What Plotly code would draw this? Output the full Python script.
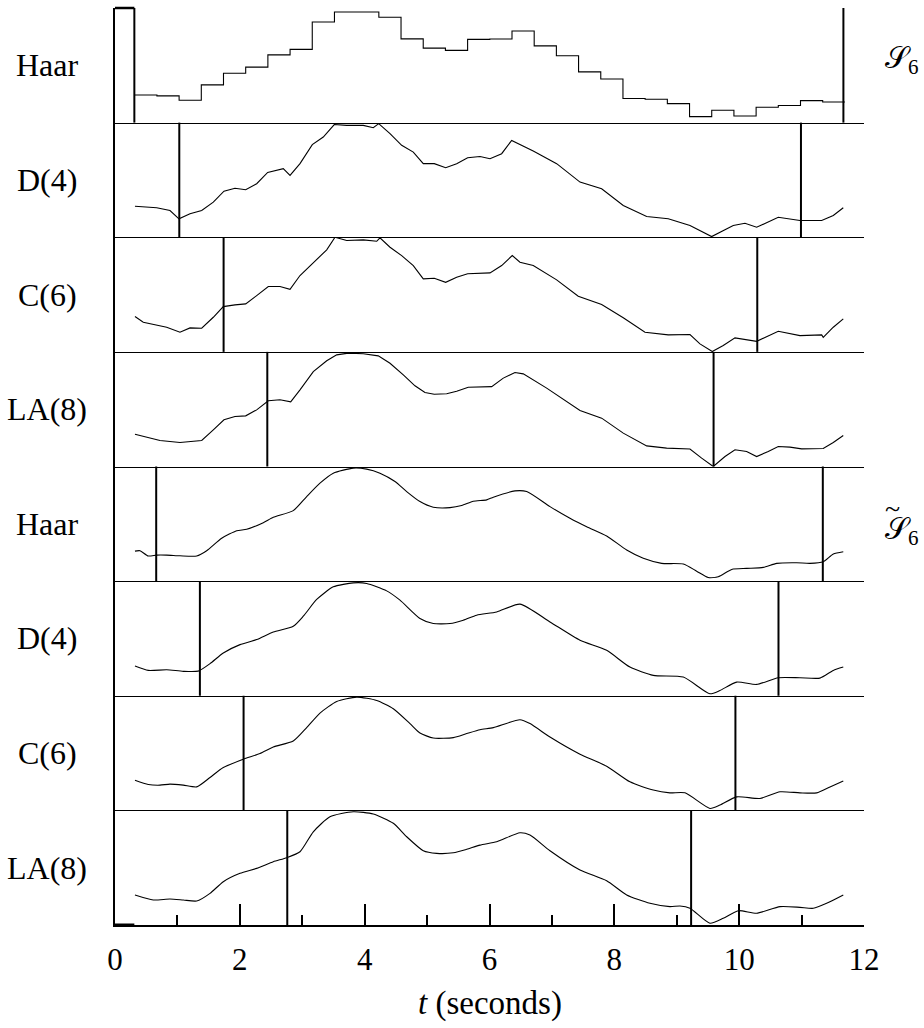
import plotly.graph_objects as go
from plotly.subplots import make_subplots

# ---------------------------------------------------------------------------
# Level-6 wavelet smooths of an ECG record (180 Hz), DWT (S6) and MODWT (S~6)
# ---------------------------------------------------------------------------
FS = 180.0        # sampling rate, Hz
T_START = 0.316   # time of the first sample, s
BLOCK = 64        # samples per level-6 Haar block

# DWT Haar smooth: one level per 64-sample block
haar_s6 = [0.241, 0.233, 0.195, 0.329, 0.431, 0.484, 0.591, 0.639, 0.878, 0.965,
           0.965, 0.919, 0.731, 0.650, 0.630, 0.726, 0.729, 0.799, 0.670, 0.583,
           0.443, 0.381, 0.210, 0.204, 0.166, 0.052, 0.108, 0.058, 0.134, 0.149,
           0.192, 0.180]

# DWT D(4) smooth
d4_s6_t = [0.320, 0.668, 0.881, 1.025, 1.202, 1.389, 1.575, 1.746, 1.922, 2.094,
           2.270, 2.446, 2.696, 2.804, 2.964, 3.161, 3.337, 3.513, 3.712, 3.978,
           4.138, 4.225, 4.406, 4.593, 4.779, 4.939, 5.115, 5.298, 5.474, 5.650,
           5.848, 6.008, 6.195, 6.355, 6.701, 7.076, 7.450, 7.797, 8.143, 8.518,
           8.864, 9.212, 9.559, 9.905, 10.093, 10.280, 10.626, 10.974, 11.322, 11.508,
           11.668]
d4_s6 = [0.271, 0.257, 0.233, 0.161, 0.205, 0.233, 0.306, 0.402, 0.428, 0.414,
         0.467, 0.566, 0.598, 0.539, 0.642, 0.808, 0.874, 0.983, 0.976, 0.976,
         0.956, 0.991, 0.904, 0.802, 0.743, 0.642, 0.642, 0.607, 0.642, 0.694,
         0.705, 0.685, 0.729, 0.845, 0.752, 0.642, 0.481, 0.423, 0.277, 0.181,
         0.161, 0.102, 0.006, 0.102, 0.122, 0.087, 0.175, 0.146, 0.146, 0.190,
         0.257]

# DWT C(6) smooth
c6_s6_t = [0.320, 0.453, 0.828, 1.041, 1.202, 1.389, 1.575, 1.735, 1.922, 2.094,
           2.270, 2.456, 2.643, 2.804, 2.964, 3.177, 3.392, 3.525, 3.712, 3.978,
           4.193, 4.245, 4.406, 4.593, 4.779, 4.939, 5.115, 5.298, 5.474, 5.650,
           5.848, 6.008, 6.195, 6.365, 6.488, 6.701, 7.076, 7.422, 7.797, 8.143,
           8.491, 8.864, 9.212, 9.372, 9.569, 9.745, 9.933, 10.280, 10.626, 10.974,
           11.322, 11.347, 11.508, 11.668]
c6_s6 = [0.308, 0.258, 0.215, 0.171, 0.209, 0.206, 0.302, 0.395, 0.410, 0.419,
         0.491, 0.570, 0.570, 0.546, 0.666, 0.782, 0.890, 1.000, 0.971, 0.977,
         0.965, 0.995, 0.913, 0.840, 0.753, 0.637, 0.642, 0.607, 0.651, 0.681,
         0.686, 0.689, 0.753, 0.840, 0.782, 0.753, 0.628, 0.485, 0.413, 0.297,
         0.171, 0.148, 0.151, 0.070, 0.003, 0.055, 0.122, 0.092, 0.180, 0.142,
         0.148, 0.127, 0.215, 0.288]

# DWT LA(8) smooth
la8_s6_t = [0.320, 0.508, 0.721, 1.041, 1.389, 1.575, 1.746, 1.922, 2.094, 2.270,
            2.456, 2.643, 2.815, 2.964, 3.177, 3.392, 3.552, 3.738, 3.978, 4.218,
            4.406, 4.619, 4.806, 4.966, 5.115, 5.314, 5.474, 5.660, 5.848, 6.035,
            6.221, 6.408, 6.541, 6.916, 7.450, 7.797, 8.143, 8.518, 8.838, 9.212,
            9.399, 9.585, 9.773, 9.933, 10.120, 10.280, 10.466, 10.626, 10.814, 11.001,
            11.347, 11.508, 11.668]
la8_s6 = [0.282, 0.256, 0.227, 0.209, 0.227, 0.320, 0.407, 0.436, 0.442, 0.494,
          0.573, 0.582, 0.564, 0.669, 0.828, 0.922, 0.974, 0.989, 0.983, 0.965,
          0.901, 0.799, 0.704, 0.645, 0.631, 0.634, 0.657, 0.692, 0.697, 0.697,
          0.771, 0.820, 0.808, 0.684, 0.488, 0.422, 0.291, 0.180, 0.160, 0.152,
          0.073, 0.000, 0.087, 0.146, 0.131, 0.087, 0.131, 0.174, 0.169, 0.154,
          0.157, 0.209, 0.270]

# MODWT Haar smooth
haar_mo_t = [0.320, 0.401, 0.533, 0.668, 0.828, 1.041, 1.309, 1.469, 1.709, 1.950,
             2.110, 2.376, 2.536, 2.856, 3.071, 3.284, 3.497, 3.818, 4.032, 4.245,
             4.486, 4.673, 4.886, 5.099, 5.367, 5.554, 5.740, 5.955, 6.061, 6.408,
             6.596, 6.969, 7.289, 7.557, 7.877, 8.198, 8.464, 8.758, 9.105, 9.319,
             9.505, 9.665, 9.880, 10.120, 10.386, 10.601, 10.921, 11.134, 11.347, 11.508,
             11.668]
haar_mo = [0.262, 0.265, 0.219, 0.227, 0.227, 0.221, 0.219, 0.265, 0.374, 0.440,
           0.452, 0.510, 0.557, 0.615, 0.738, 0.855, 0.942, 0.986, 0.977, 0.942,
           0.869, 0.781, 0.694, 0.645, 0.641, 0.659, 0.697, 0.709, 0.732, 0.787,
           0.781, 0.650, 0.549, 0.475, 0.394, 0.271, 0.199, 0.155, 0.149, 0.087,
           0.032, 0.038, 0.102, 0.111, 0.120, 0.155, 0.160, 0.155, 0.169, 0.236,
           0.256]

# MODWT D(4) smooth
d4_mo_t = [0.320, 0.533, 0.828, 1.094, 1.334, 1.522, 1.735, 2.003, 2.270, 2.536,
           2.856, 3.017, 3.231, 3.497, 3.818, 4.032, 4.353, 4.566, 4.886, 5.099,
           5.367, 5.580, 5.795, 6.115, 6.488, 6.969, 7.450, 7.877, 8.250, 8.624,
           9.105, 9.532, 9.692, 9.960, 10.280, 10.626, 10.974, 11.294, 11.508, 11.668]
d4_mo = [0.259, 0.221, 0.227, 0.213, 0.215, 0.280, 0.373, 0.446, 0.490, 0.556,
         0.606, 0.694, 0.840, 0.950, 0.985, 0.980, 0.915, 0.834, 0.674, 0.630,
         0.630, 0.659, 0.703, 0.731, 0.799, 0.644, 0.484, 0.396, 0.250, 0.178,
         0.163, 0.017, 0.046, 0.119, 0.099, 0.157, 0.157, 0.154, 0.221, 0.250]

# MODWT C(6) smooth
c6_mo_t = [0.320, 0.533, 0.721, 0.881, 1.094, 1.309, 1.522, 1.735, 2.055, 2.323,
           2.536, 2.856, 3.071, 3.284, 3.552, 3.872, 4.193, 4.459, 4.726, 4.886,
           5.099, 5.420, 5.634, 5.848, 6.061, 6.488, 6.648, 6.969, 7.450, 7.877,
           8.250, 8.624, 8.891, 9.132, 9.532, 9.692, 9.960, 10.333, 10.654, 10.974,
           11.242, 11.455, 11.668]
c6_mo = [0.263, 0.226, 0.220, 0.229, 0.220, 0.205, 0.287, 0.374, 0.446, 0.496,
         0.553, 0.605, 0.722, 0.849, 0.950, 0.988, 0.959, 0.887, 0.757, 0.675,
         0.631, 0.635, 0.670, 0.704, 0.722, 0.791, 0.757, 0.640, 0.490, 0.385,
         0.249, 0.177, 0.153, 0.153, 0.017, 0.046, 0.118, 0.104, 0.162, 0.153,
         0.153, 0.205, 0.257]

# MODWT LA(8) smooth
la8_mo_t = [0.320, 0.614, 0.881, 1.094, 1.309, 1.522, 1.735, 2.003, 2.270, 2.536,
            2.751, 2.964, 3.177, 3.444, 3.818, 4.138, 4.459, 4.673, 4.939, 5.154,
            5.420, 5.634, 5.848, 6.115, 6.488, 6.648, 6.969, 7.450, 7.877, 8.198,
            8.571, 8.891, 9.052, 9.212, 9.532, 9.745, 9.985, 10.280, 10.654, 10.974,
            11.187, 11.401, 11.668]
la8_mo = [0.262, 0.218, 0.227, 0.218, 0.209, 0.276, 0.378, 0.451, 0.494, 0.552,
          0.587, 0.639, 0.813, 0.944, 0.988, 0.968, 0.887, 0.770, 0.648, 0.625,
          0.630, 0.660, 0.697, 0.726, 0.805, 0.785, 0.648, 0.480, 0.386, 0.262,
          0.189, 0.160, 0.166, 0.146, 0.015, 0.058, 0.125, 0.102, 0.160, 0.154,
          0.146, 0.189, 0.262]

row_labels = ["Haar", "D(4)", "C(6)", "LA(8)", "Haar", "D(4)", "C(6)", "LA(8)"]
# boundary-affected region limits for each smooth (s)
left_bounds = [0.31, 1.03, 1.74, 2.44, 0.66, 1.36, 2.06, 2.76]
right_bounds = [11.67, 10.99, 10.29, 9.59, 11.34, 10.63, 9.94, 9.23]
x_ticks = [0, 2, 4, 6, 8, 10, 12]
x_range = [0, 12]

FONT = "Liberation Serif"
INK = "black"

# Haar DWT smooth is piecewise constant over blocks
block_dur = BLOCK / FS
haar_edges = [T_START + k * block_dur for k in range(len(haar_s6) + 1)]
haar_steps = haar_s6 + [haar_s6[-1]]

series = [
    (haar_edges, haar_steps, "hv"),
    (d4_s6_t, d4_s6, "linear"),
    (c6_s6_t, c6_s6, "linear"),
    (la8_s6_t, la8_s6, "linear"),
    (haar_mo_t, haar_mo, "spline"),
    (d4_mo_t, d4_mo, "spline"),
    (c6_mo_t, c6_mo, "spline"),
    (la8_mo_t, la8_mo, "spline"),
]

n_rows = len(series)
fig = make_subplots(rows=n_rows, cols=1, shared_xaxes=True, vertical_spacing=0)

for i, (tx, vy, shape) in enumerate(series, start=1):
    line = dict(color=INK, width=1.1, shape=shape)
    if shape == "spline":
        line["smoothing"] = 0.6
    fig.add_trace(go.Scatter(x=tx, y=vy, mode="lines", line=line,
                             hoverinfo="skip", showlegend=False), row=i, col=1)
    for b in (left_bounds[i - 1], right_bounds[i - 1]):
        fig.add_vline(x=b, line=dict(color=INK, width=2), row=i, col=1)

for i in range(1, n_rows + 1):
    fig.update_yaxes(range=[0, 1], showgrid=False, zeroline=False, showticklabels=False,
                     ticks="", showline=True, linecolor=INK, linewidth=1.5,
                     fixedrange=True, row=i, col=1)
    fig.update_xaxes(range=x_range, showgrid=False, zeroline=False, showline=True,
                     linecolor=INK, linewidth=1, ticks="", row=i, col=1)

# bottom time axis
fig.update_xaxes(
    row=n_rows, col=1, linewidth=2, tickmode="array", tickvals=x_ticks,
    ticktext=[str(v) for v in x_ticks], ticks="inside", ticklen=21, tickwidth=2,
    tickcolor=INK, showticklabels=True, ticklabelstandoff=6,
    tickfont=dict(family=FONT, size=31, color=INK),
    minor=dict(dtick=1, tick0=0, ticks="inside", ticklen=10, tickwidth=2, tickcolor=INK),
)

# short heavy strokes at the frame corners
fig.add_shape(type="line", xref="x", yref="y domain", x0=x_range[0], x1=left_bounds[0],
              y0=1, y1=1, line=dict(color=INK, width=2.5))
fig.add_shape(type="line", xref=f"x{n_rows}", yref=f"y{n_rows} domain", x0=x_range[0],
              x1=left_bounds[0], y0=0, y1=0, line=dict(color=INK, width=3))

W, H = 924, 1028
ML, MR, MT, MB = 115, 60, 8, 103
plot_w = W - ML - MR
plot_h = H - MT - MB


def paper_x(px):
    return (px - ML) / plot_w


def paper_y(py):
    return 1 - (py - MT) / plot_h


annotations = []
for i, lab in enumerate(row_labels, start=1):
    dom = fig.layout[f"yaxis{i}" if i > 1 else "yaxis"].domain
    yc = (dom[0] + dom[1]) / 2
    annotations.append(dict(text=lab, xref="paper", yref="paper", x=paper_x(47), y=yc,
                            xanchor="center", yanchor="middle", showarrow=False,
                            font=dict(family=FONT, size=32, color=INK)))

# scale-level labels on the right
annotations.append(dict(text="𝒮<sub>6</sub>", xref="paper", yref="paper",
                        x=paper_x(921), y=paper_y(60), xanchor="right", yanchor="middle",
                        showarrow=False, font=dict(family=FONT, size=30, color=INK)))
annotations.append(dict(
    text="<span style='font-size:28px'>~</span><br>"
         "<span style='font-size:30px'>𝒮<sub>6</sub></span>",
    xref="paper", yref="paper", align="left",
    x=paper_x(921), y=paper_y(521), xanchor="right", yanchor="middle",
    showarrow=False, font=dict(family=FONT, size=16, color=INK)))

annotations.append(dict(text="<i>t</i> (seconds)", xref="paper", yref="paper", x=0.5,
                        y=paper_y(1003), xanchor="center", yanchor="middle", showarrow=False,
                        font=dict(family=FONT, size=33, color=INK)))

fig.update_layout(
    width=W, height=H, margin=dict(l=ML, r=MR, t=MT, b=MB),
    paper_bgcolor="white", plot_bgcolor="white",
    annotations=annotations, showlegend=False,
)

fig.write_html("out.html")
